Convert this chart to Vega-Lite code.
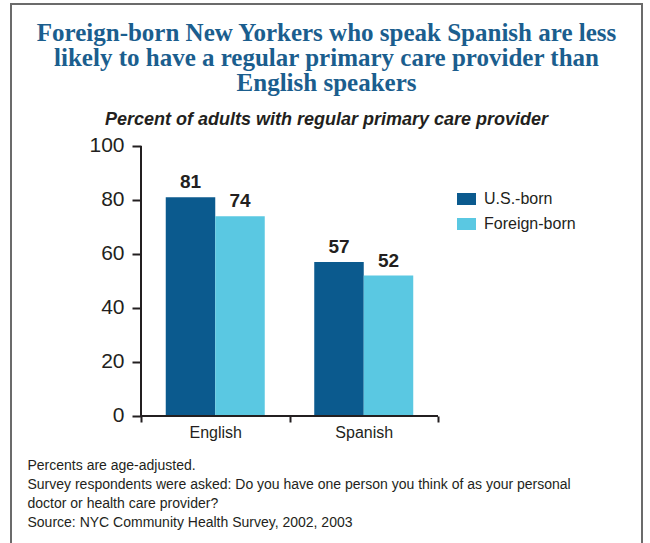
{
  "$schema": "https://vega.github.io/schema/vega-lite/v6.json",
  "width": 631,
  "height": 544,
  "autosize": {"type": "none"},
  "padding": {"left": 11, "top": 4, "right": 8, "bottom": -5},
  "background": "white",
  "config": {
    "view": {"stroke": "#6b6b6b", "strokeWidth": 2},
    "font": "Liberation Sans"
  },
  "title": {
    "text": ["Foreign-born New Yorkers who speak Spanish are less", "likely to have a regular primary care provider than", "English speakers"],
    "subtitle": "Percent of adults with regular primary care provider",
    "orient": "top",
    "anchor": "middle",
    "frame": "group",
    "offset": -125,
    "font": "Liberation Serif",
    "fontSize": 25,
    "fontWeight": "bold",
    "color": "#1b5e8e",
    "lineHeight": 25,
    "subtitleFont": "Liberation Sans",
    "subtitleFontSize": 18,
    "subtitleFontStyle": "italic",
    "subtitleFontWeight": "bold",
    "subtitleColor": "#231f20",
    "subtitlePadding": 15
  },
  "data": {
    "values": [
      {"lang": "English", "born": "U.S.-born", "value": 81},
      {"lang": "English", "born": "Foreign-born", "value": 74},
      {"lang": "Spanish", "born": "U.S.-born", "value": 57},
      {"lang": "Spanish", "born": "Foreign-born", "value": 52}
    ]
  },
  "encoding": {
    "x": {
      "field": "lang",
      "type": "nominal",
      "scale": {"domain": ["English", "Spanish", "zz"], "paddingInner": 0, "paddingOuter": 0.6246, "align": 0.7008},
      "axis": {
        "orient": "bottom",
        "offset": -132,
        "values": ["English", "Spanish"],
        "domain": false,
        "tickBand": "extent",
        "tickSize": 6,
        "tickWidth": 2,
        "tickColor": "#231f20",
        "labelAngle": 0,
        "labelFont": "Liberation Sans",
        "labelFontSize": 16,
        "labelColor": "#231f20",
        "labelPadding": 2,
        "title": ["Percents are age-adjusted.", "Survey respondents were asked: Do you have one person you think of as your personal", "doctor or health care provider?", "Source:  NYC Community Health Survey, 2002, 2003"],
        "titleFont": "Liberation Sans",
        "titleFontSize": 14,
        "titleFontWeight": "normal",
        "titleColor": "#231f20",
        "titleAlign": "left",
        "titleBaseline": "alphabetic",
        "titleLineHeight": 19,
        "titleX": 16,
        "titleY": 53
      }
    }
  },
  "layer": [
    {
      "mark": {"type": "bar"},
      "encoding": {
        "xOffset": {"field": "born", "type": "nominal", "sort": ["U.S.-born", "Foreign-born"], "scale": {"paddingInner": 0, "paddingOuter": 0.5}},
        "y": {
          "field": "value",
          "type": "quantitative",
          "scale": {"domain": [-48.89, 152.59], "nice": false, "zero": false},
          "axis": {
            "orient": "left",
            "offset": -130,
            "domain": false,
            "grid": false,
            "values": [0, 20, 40, 60, 80, 100],
            "tickSize": 9,
            "tickWidth": 2,
            "tickColor": "#231f20",
            "labelFont": "Liberation Sans",
            "labelFontSize": 21,
            "labelColor": "#231f20",
            "labelPadding": 8,
            "title": null
          }
        },
        "color": {
          "field": "born",
          "type": "nominal",
          "scale": {"domain": ["U.S.-born", "Foreign-born"], "range": ["#0b5a8e", "#5ac8e2"]},
          "legend": {
            "orient": "none",
            "legendX": 446,
            "legendY": 185.5,
            "title": null,
            "padding": 0,
            "symbolType": "M-1,-0.63H1V0.63H-1Z",
            "symbolSize": 361,
            "symbolStrokeWidth": 0,
            "symbolOpacity": 1,
            "labelFont": "Liberation Sans",
            "labelFontSize": 16,
            "labelColor": "#231f20",
            "labelOffset": 8,
            "rowPadding": 7
          }
        }
      }
    },
    {
      "mark": {"type": "text", "dy": -9, "baseline": "alphabetic", "fontSize": 19, "fontWeight": "bold", "font": "Liberation Sans", "color": "#231f20"},
      "encoding": {
        "xOffset": {"field": "born", "type": "nominal", "sort": ["U.S.-born", "Foreign-born"]},
        "y": {"field": "value", "type": "quantitative"},
        "text": {"field": "value", "type": "quantitative"}
      }
    },
    {
      "mark": {"type": "rule", "color": "#231f20", "strokeWidth": 2},
      "encoding": {
        "x": {"datum": "English", "bandPosition": 0},
        "y": {"datum": 0},
        "y2": {"datum": 100}
      }
    },
    {
      "mark": {"type": "rule", "color": "#231f20", "strokeWidth": 2},
      "encoding": {
        "x": {"datum": "English", "bandPosition": 0},
        "x2": {"datum": "Spanish", "bandPosition": 1},
        "y": {"datum": 0}
      }
    }
  ]
}
